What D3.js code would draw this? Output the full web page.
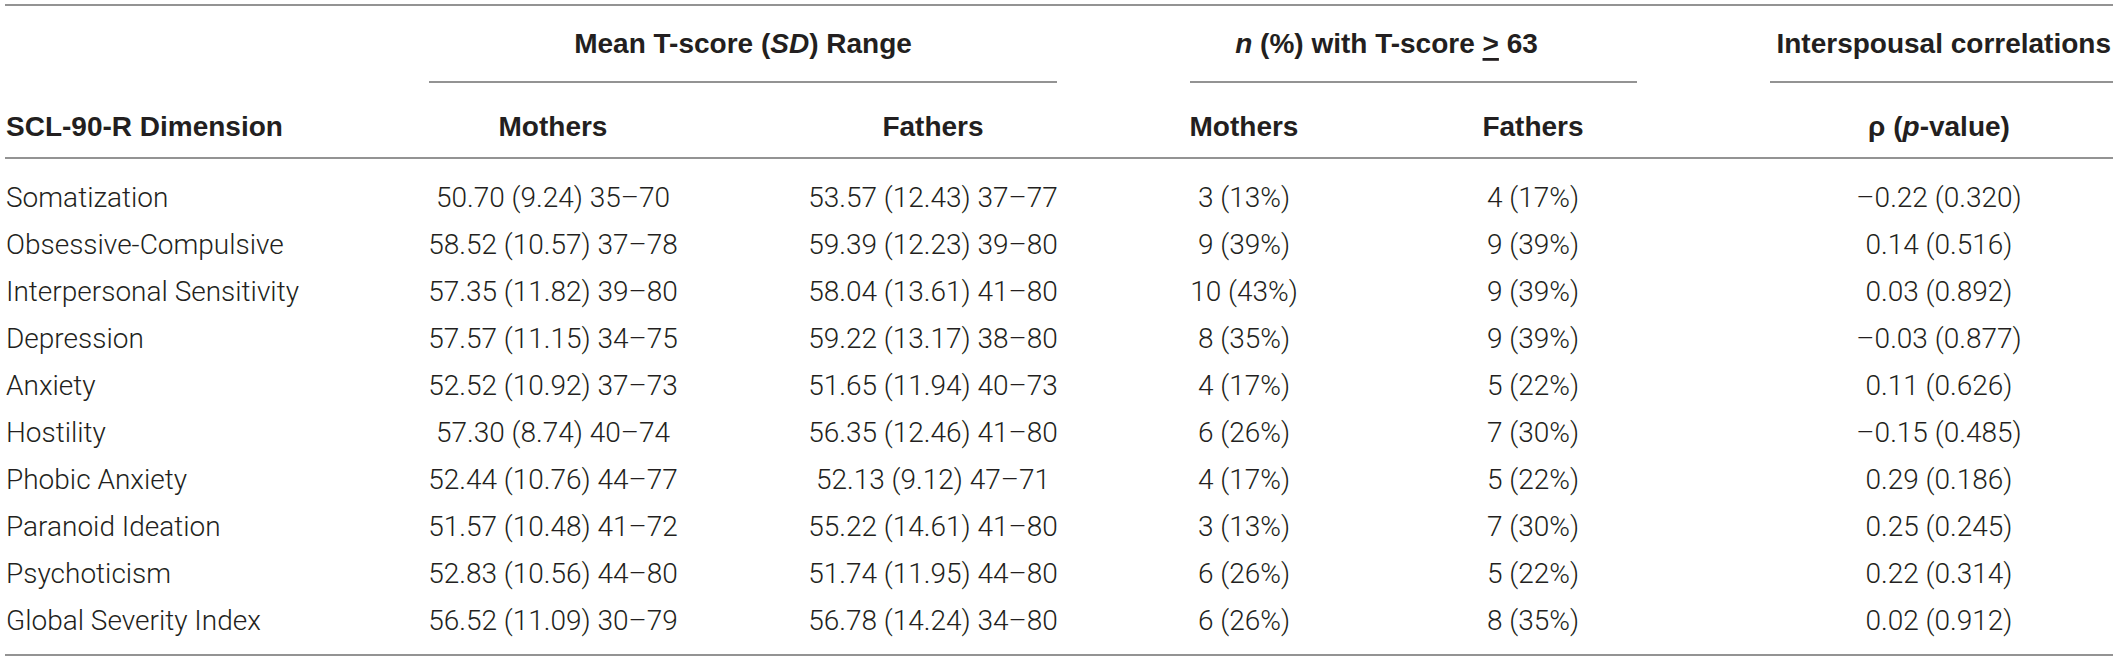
<!DOCTYPE html>
<html>
<head>
<meta charset="utf-8">
<script src="https://cdn.jsdelivr.net/npm/d3@7"></script>
<style>
  html, body { margin: 0; padding: 0; background: #fff; }
  svg { display: block; }
  .body-text { font-family: Roboto, 'Liberation Sans', Arial, sans-serif; font-weight: 300; font-size: 28px; fill: #231f20; }
  .head-text { font-family: 'Liberation Sans', Arial, sans-serif; font-weight: 700; font-size: 28px; fill: #231f20; }
  .rule { stroke: #6f6f6f; stroke-width: 1.6; }
</style>
</head>
<body>
<svg id="chart"></svg>
<script>
const dimensions = ['Somatization', 'Obsessive-Compulsive', 'Interpersonal Sensitivity', 'Depression',
  'Anxiety', 'Hostility', 'Phobic Anxiety', 'Paranoid Ideation', 'Psychoticism', 'Global Severity Index']

const motherMean = [50.70, 58.52, 57.35, 57.57, 52.52, 57.30, 52.44, 51.57, 52.83, 56.52]
const motherSD = [9.24, 10.57, 11.82, 11.15, 10.92, 8.74, 10.76, 10.48, 10.56, 11.09]
const motherRange = [[35, 70], [37, 78], [39, 80], [34, 75], [37, 73], [40, 74], [44, 77], [41, 72], [44, 80], [30, 79]]

const fatherMean = [53.57, 59.39, 58.04, 59.22, 51.65, 56.35, 52.13, 55.22, 51.74, 56.78]
const fatherSD = [12.43, 12.23, 13.61, 13.17, 11.94, 12.46, 9.12, 14.61, 11.95, 14.24]
const fatherRange = [[37, 77], [39, 80], [41, 80], [38, 80], [40, 73], [41, 80], [47, 71], [41, 80], [44, 80], [34, 80]]

const motherN = [3, 9, 10, 8, 4, 6, 4, 3, 6, 6]
const motherPct = [13, 39, 43, 35, 17, 26, 17, 13, 26, 26]
const fatherN = [4, 9, 9, 9, 5, 7, 5, 7, 5, 8]
const fatherPct = [17, 39, 39, 39, 22, 30, 22, 30, 22, 35]

const rho = [-0.22, 0.14, 0.03, -0.03, 0.11, -0.15, 0.29, 0.25, 0.22, 0.02]
const pValue = [0.320, 0.516, 0.892, 0.877, 0.626, 0.485, 0.186, 0.245, 0.314, 0.912]

const columns = ['dim', 'mMean', 'fMean', 'mN', 'fN', 'rho']
const subHeads = ['Mothers', 'Fathers', 'Mothers', 'Fathers']

const width = 2118
const height = 661

const svg = d3.select('#chart')
  .attr('width', width)
  .attr('height', height)

// column centres (first column is left aligned)
const x = d3.scaleOrdinal()
  .domain(columns)
  .range([6, 553, 933, 1244, 1533, 1939])

const y = d3.scalePoint()
  .domain(dimensions)
  .range([197, 620])

const f2 = d3.format('.2f')
const f3 = d3.format('.3f')
const signed = (v) => (v < 0 ? '\u2013' : '') + f2(Math.abs(v))

const rows = dimensions.map((d, i) => ({
  dim: d,
  mMean: `${f2(motherMean[i])} (${f2(motherSD[i])}) ${motherRange[i][0]}\u2013${motherRange[i][1]}`,
  fMean: `${f2(fatherMean[i])} (${f2(fatherSD[i])}) ${fatherRange[i][0]}\u2013${fatherRange[i][1]}`,
  mN: `${motherN[i]} (${motherPct[i]}%)`,
  fN: `${fatherN[i]} (${fatherPct[i]}%)`,
  rho: `${signed(rho[i])} (${f3(pValue[i])})`
}))

// horizontal rules
const rules = [
  [5, 2113, 5], [5, 2113, 158], [5, 2113, 655],
  [429, 1057, 82], [1190, 1637, 82], [1770, 2113, 82]
]
svg.selectAll('line.rule')
  .data(rules)
  .enter().append('line')
  .attr('class', 'rule')
  .attr('x1', (d) => d[0])
  .attr('x2', (d) => d[1])
  .attr('y1', (d) => d[2])
  .attr('y2', (d) => d[2])

// top header row
const head1 = svg.append('g').attr('class', 'head-text')
const h1y = 43
const t1 = head1.append('text').attr('x', (x('mMean') + x('fMean')) / 2).attr('y', h1y)
  .attr('text-anchor', 'middle').attr('dominant-baseline', 'central')
t1.append('tspan').text('Mean T-score (')
t1.append('tspan').attr('font-style', 'italic').text('SD')
t1.append('tspan').text(') Range')

const t2 = head1.append('text').attr('x', (x('mN') + x('fN')) / 2 - 2).attr('y', h1y)
  .attr('text-anchor', 'middle').attr('dominant-baseline', 'central')
t2.append('tspan').attr('font-style', 'italic').text('n')
t2.append('tspan').text(' (%) with T-score ')
t2.append('tspan').attr('text-decoration', 'underline').text('>')
t2.append('tspan').text(' 63')

head1.append('text').attr('x', 2111).attr('y', h1y)
  .attr('text-anchor', 'end').attr('dominant-baseline', 'central')
  .text('Interspousal correlations')

// second header row
const h2y = 126
const head2 = svg.append('g').attr('class', 'head-text')
head2.append('text').attr('x', x('dim')).attr('y', h2y)
  .attr('dominant-baseline', 'central')
  .text('SCL-90-R Dimension')
head2.selectAll('text.sub')
  .data(subHeads)
  .enter().append('text')
  .attr('class', 'sub')
  .attr('x', (d, i) => x(columns[i + 1]))
  .attr('y', h2y)
  .attr('text-anchor', 'middle')
  .attr('dominant-baseline', 'central')
  .text((d) => d)
const t3 = head2.append('text').attr('x', x('rho')).attr('y', h2y)
  .attr('text-anchor', 'middle').attr('dominant-baseline', 'central')
t3.append('tspan').text('\u03C1  (')
t3.append('tspan').attr('font-style', 'italic').text('p')
t3.append('tspan').text('-value)')

// body rows
const body = svg.append('g').attr('class', 'body-text')
const row = body.selectAll('g.row')
  .data(rows)
  .enter().append('g')
  .attr('class', 'row')
  .attr('transform', (d) => `translate(0,${y(d.dim)})`)

columns.forEach((c) => {
  row.append('text')
    .attr('x', x(c))
    .attr('text-anchor', c === 'dim' ? 'start' : 'middle')
    .attr('dominant-baseline', 'central')
    .text((d) => d[c])
})
</script>
</body>
</html>
